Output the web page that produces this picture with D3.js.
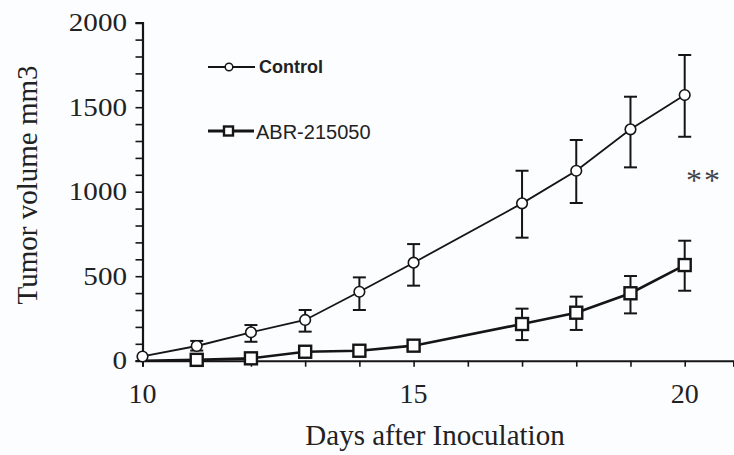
<!DOCTYPE html>
<html><head><meta charset="utf-8">
<script src="https://cdn.jsdelivr.net/npm/d3@7"></script>
<style>html,body{margin:0;padding:0;background:#fcfdff;}svg{display:block;}</style>
</head><body>
<script>
// ---- data ----
const days = [10, 11, 12, 13, 14, 15, 17, 18, 19, 20];
const controlMean = [25, 87, 168, 241, 408, 580, 931, 1124, 1369, 1572];
const controlHigh = [25, 117, 211, 300, 493, 690, 1124, 1306, 1562, 1809];
const controlLow  = [25, 60, 112, 172, 300, 444, 728, 933, 1144, 1325];
const abrMean = [0, 5, 14, 53, 59, 89, 217, 284, 399, 566];
const abrHigh = [0, 5, 14, 53, 59, 89, 308, 379, 501, 710];
const abrLow  = [0, 5, 14, 53, 59, 89, 122, 182, 280, 414];
const xTickValues = [10, 11, 12, 13, 14, 15, 16, 17, 18, 19, 20];
const xTickLabels = [10, 15, 20];
const yMinorTicks = d3.range(0, 2001, 100);
const yTickLabels = [0, 500, 1000, 1500, 2000];
const seriesNames = ["Control", "ABR-215050"];

const W = 734, H = 455;
const svg = d3.select("body").append("svg").attr("width", W).attr("height", H);
const x = d3.scaleLinear().domain([10, 20.9]).range([142.5, 733.5]);
const y = d3.scaleLinear().domain([0, 2000]).range([360.7, 22.7]);
const ink = "#151515";
const serif = "Liberation Serif, Times New Roman, serif";

// axes
const xAxis = d3.axisBottom(x).tickValues(xTickValues).tickSize(6).tickFormat("");
const gx = svg.append("g").attr("transform", `translate(0,${y(0)})`).call(xAxis);
gx.select(".domain").attr("stroke", ink).attr("stroke-width", 2);
gx.selectAll(".tick line").attr("stroke", ink).attr("stroke-width", 1.6);

const yAxis = d3.axisLeft(y).tickValues(yMinorTicks).tickSize(7).tickFormat("");
const gy = svg.append("g").attr("transform", `translate(${x(10)},0)`).call(yAxis);
gy.select(".domain").attr("stroke", ink).attr("stroke-width", 2.2);
gy.selectAll(".tick line").attr("stroke", ink).attr("stroke-width", 1.6);

// tick labels
svg.append("g").selectAll("text").data(yTickLabels).join("text")
  .attr("transform", d => `translate(127,${y(d) + 8.6}) scale(1.12,1)`)
  .attr("text-anchor", "end").attr("font-family", serif)
  .attr("font-size", 26).attr("fill", "#222").text(d => d);
svg.append("g").selectAll("text").data(xTickLabels).join("text")
  .attr("x", d => x(d)).attr("y", 403)
  .attr("text-anchor", "middle").attr("font-family", serif)
  .attr("font-size", 28).attr("fill", "#222").text(d => d);

// axis titles
svg.append("text").attr("x", 435).attr("y", 445).attr("text-anchor", "middle")
  .attr("font-family", serif).attr("font-size", 29)
  .attr("fill", "#222").text("Days after Inoculation");
svg.append("text").attr("transform", "translate(37,185) rotate(-90)").attr("text-anchor", "middle")
  .attr("font-family", serif).attr("font-size", 29)
  .attr("fill", "#222").text("Tumor volume mm3");

// series
const ctrl = days.map((d, i) => ({d, m: controlMean[i], hi: controlHigh[i], lo: controlLow[i]}));
const abr = days.map((d, i) => ({d, m: abrMean[i], hi: abrHigh[i], lo: abrLow[i]}));
const line = d3.line().x(p => x(p.d)).y(p => y(p.m));

function errorBars(data, sw) {
  const g = svg.append("g").attr("stroke", ink).attr("stroke-width", sw);
  const eb = data.filter(p => p.hi - p.lo > 0);
  g.selectAll(".v").data(eb).join("line").attr("x1", p => x(p.d)).attr("x2", p => x(p.d))
    .attr("y1", p => y(p.hi)).attr("y2", p => y(p.lo));
  g.selectAll(".t").data(eb).join("line").attr("x1", p => x(p.d) - 6.5).attr("x2", p => x(p.d) + 6.5)
    .attr("y1", p => y(p.hi)).attr("y2", p => y(p.hi));
  g.selectAll(".b").data(eb).join("line").attr("x1", p => x(p.d) - 6.5).attr("x2", p => x(p.d) + 6.5)
    .attr("y1", p => y(p.lo)).attr("y2", p => y(p.lo));
}

errorBars(abr, 2);
svg.append("path").datum(abr).attr("d", line).attr("fill", "none").attr("stroke", ink).attr("stroke-width", 2.6);
svg.append("g").selectAll("rect").data(abr.filter((p, i) => i > 0)).join("rect")
  .attr("x", p => x(p.d) - 6).attr("y", p => y(p.m) - 6).attr("width", 12).attr("height", 12)
  .attr("fill", "#fff").attr("stroke", ink).attr("stroke-width", 2.4);

errorBars(ctrl, 2);
svg.append("path").datum(ctrl).attr("d", line).attr("fill", "none").attr("stroke", ink).attr("stroke-width", 1.8);
svg.append("g").selectAll("circle").data(ctrl).join("circle")
  .attr("cx", p => x(p.d)).attr("cy", p => y(p.m)).attr("r", 5.3)
  .attr("fill", "#fff").attr("stroke", ink).attr("stroke-width", 1.6);

// legend
const lg = svg.append("g");
lg.append("line").attr("x1", 208).attr("x2", 255).attr("y1", 67).attr("y2", 67).attr("stroke", ink).attr("stroke-width", 1.8);
lg.append("circle").attr("cx", 229).attr("cy", 67).attr("r", 3.8).attr("fill", "#fff").attr("stroke", ink).attr("stroke-width", 1.5);
lg.append("text").attr("x", 259).attr("y", 73).attr("font-family", "Liberation Sans, Arial, sans-serif")
  .attr("font-size", 18).attr("font-weight", "bold").attr("fill", "#222").text(seriesNames[0]);
lg.append("line").attr("x1", 208).attr("x2", 254).attr("y1", 131).attr("y2", 131).attr("stroke", ink).attr("stroke-width", 2.8);
lg.append("rect").attr("x", 224).attr("y", 126.5).attr("width", 9).attr("height", 9).attr("fill", "#fff").attr("stroke", ink).attr("stroke-width", 2.4);
lg.append("text").attr("x", 256).attr("y", 138.5).attr("font-family", "Liberation Sans, Arial, sans-serif")
  .attr("font-size", 20).attr("fill", "#222").text(seriesNames[1]);

// significance
svg.append("text").attr("x", 704).attr("y", 191).attr("text-anchor", "middle")
  .attr("font-family", serif).attr("font-size", 32)
  .attr("letter-spacing", 2).attr("fill", "#444").text("**");
</script>
</body></html>
